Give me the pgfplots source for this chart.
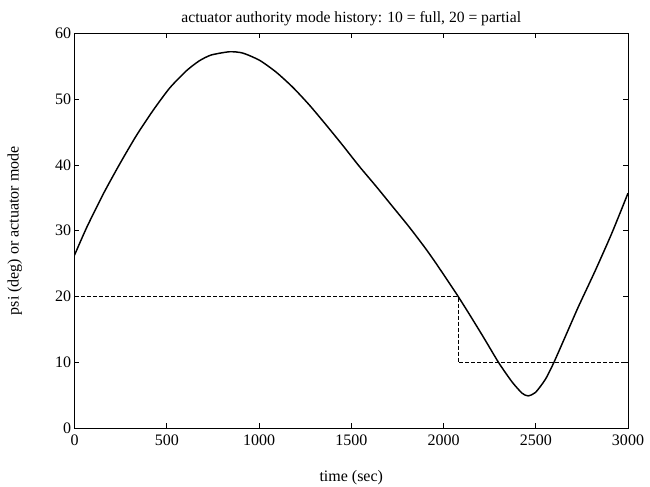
\documentclass[border=0pt]{standalone}
\usepackage{fontspec}
\setmainfont{Liberation Serif}
\usepackage{pgfplots}
\pgfplotsset{compat=1.18}
\begin{document}
\begin{tikzpicture}
\begin{axis}[
  scale only axis,
  width=415pt, height=296pt,
  xmin=0, xmax=3000, ymin=0, ymax=60,
  xtick={0,500,...,3000},
  ytick={0,10,...,60},
  tick align=inside,
  major tick length=3.5pt,
  tick style={black, line width=0.5pt},
  axis line style={line width=0.6pt},
  /pgf/number format/assume math mode=true,
  /pgf/number format/set thousands separator={},
  tick label style={font=\fontsize{12}{13}\selectfont},
  xticklabel style={yshift=-1.5pt},
  yticklabel style={xshift=1pt},
  title={actuator authority mode history: 10 = full, 20 = partial},
  title style={font=\fontsize{11.7}{13}\selectfont, at={(0.5,1)}, yshift=-4pt},
  xlabel={time (sec)},
  ylabel={psi (deg) or actuator mode},
  label style={font=\fontsize{12}{13}\selectfont},
  xlabel style={yshift=-12pt},
  ylabel style={yshift=18pt},
]
\coordinate (O) at (rel axis cs:0,0);
\coordinate (E) at (rel axis cs:1,1);
\addplot[black, line width=1.1pt, smooth, tension=0.4] coordinates {
(0,26.3) (66,30.5) (156,35.6) (246,40.2) (336,44.5) (426,48.3) (516,51.7)
(606,54.3) (675,55.8) (740,56.7) (840,57.2) (912,57.0) (1003,55.9)
(1093,54.1) (1183,51.8) (1273,49.1) (1363,46.1) (1453,43.0) (1543,39.8)
(1633,36.8) (1723,33.7) (1813,30.6) (1900,27.4) (1958,25.1) (2030,22.1)
(2075,20.2) (2138,17.4) (2219,13.7) (2300,9.9) (2372,7.0) (2426,5.3)
(2458,4.9) (2498,5.4) (2552,7.4) (2597,9.9) (2660,13.9) (2732,18.5)
(2822,23.9) (2912,29.6) (3000,35.7)
};
\addplot[black, line width=0.6pt, dash pattern=on 3pt off 1.5pt] coordinates {
(0,0) (0,20) (2078,20) (2078,10) (3000,10)
};
\end{axis}
\pgfresetboundingbox
\path[use as bounding box] ([shift={(-55.9pt,-43.5pt)}]O) rectangle ([shift={(16.5pt,25pt)}]E);
\end{tikzpicture}
\end{document}
